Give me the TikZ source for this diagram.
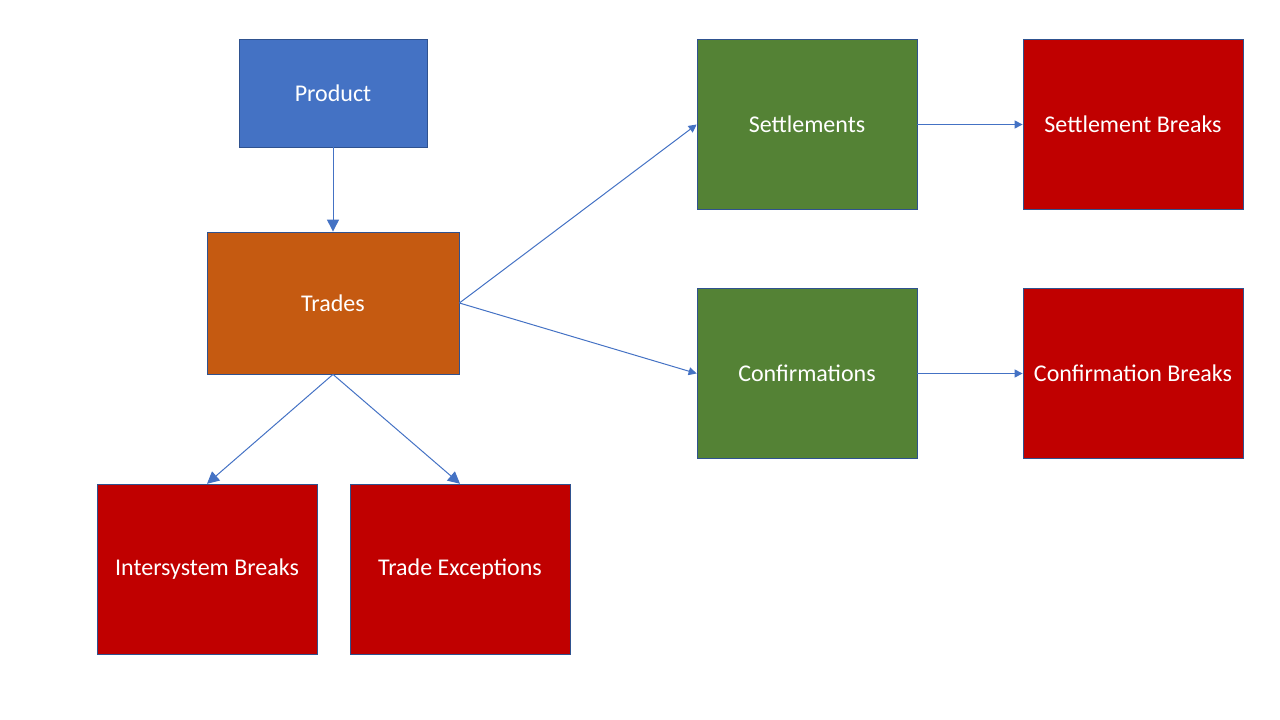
\documentclass[tikz,border=0pt]{standalone}
\usepackage{fontspec}
\setmainfont{Carlito}
\usetikzlibrary{arrows.meta}
\definecolor{prodblue}{HTML}{4472C4}
\definecolor{tradeorange}{HTML}{C55A11}
\definecolor{flowgreen}{HTML}{548235}
\definecolor{breakred}{HTML}{C00000}
\definecolor{edgeblue}{HTML}{2F528F}
\tikzset{
  box/.style={draw=edgeblue, line width=0.6pt, text=white, font=\fontsize{18}{21}\selectfont, inner sep=0pt},
  link/.style={draw=prodblue, line width=0.75pt, -{Triangle[width=9pt,length=9pt]}},
  smalllink/.style={draw=prodblue, line width=0.75pt, -{Triangle[width=6pt,length=6pt]}},
}
\begin{document}
\begin{tikzpicture}[x=0.75pt,y=-0.75pt]
      \useasboundingbox (0,0) rectangle (1280,720);
      \node[box, fill=prodblue, minimum width=141pt, minimum height=81pt] at (333, 93)    (prod) {Product};
      \node[box, fill=tradeorange, minimum width=189pt, minimum height=106.5pt] at (333, 303) (trd) {Trades};
      \node[box, fill=flowgreen, minimum width=165pt, minimum height=128pt] at (807, 124.5)  (sett) {Settlements};
      \node[box, fill=breakred, minimum width=165pt, minimum height=128pt] at (1133, 124.5)  (settb) {Settlement Breaks};
      \node[box, fill=flowgreen, minimum width=165pt, minimum height=128pt] at (807, 373.5)  (conf) {Confirmations};
      \node[box, fill=breakred, minimum width=165pt, minimum height=128pt] at (1133, 373.5)  (confb) {Confirmation Breaks};
      \node[box, fill=breakred, minimum width=165pt, minimum height=128pt] at (207, 569.5)   (isb) {Intersystem Breaks};
      \node[box, fill=breakred, minimum width=165pt, minimum height=128pt] at (460, 569.5)   (texc) {Trade Exceptions};
      \path[link] (prod) -- (trd);
      \path[smalllink] (trd.east) -- (sett.west);
      \path[smalllink] (trd.east) -- (conf.west);
      \path[smalllink] (sett) -- (settb);
      \path[smalllink] (conf) -- (confb);
      \path[link] (trd.south) -- (isb.north);
      \path[link] (trd.south) -- (texc.north);
    \end{tikzpicture}
\end{document}
